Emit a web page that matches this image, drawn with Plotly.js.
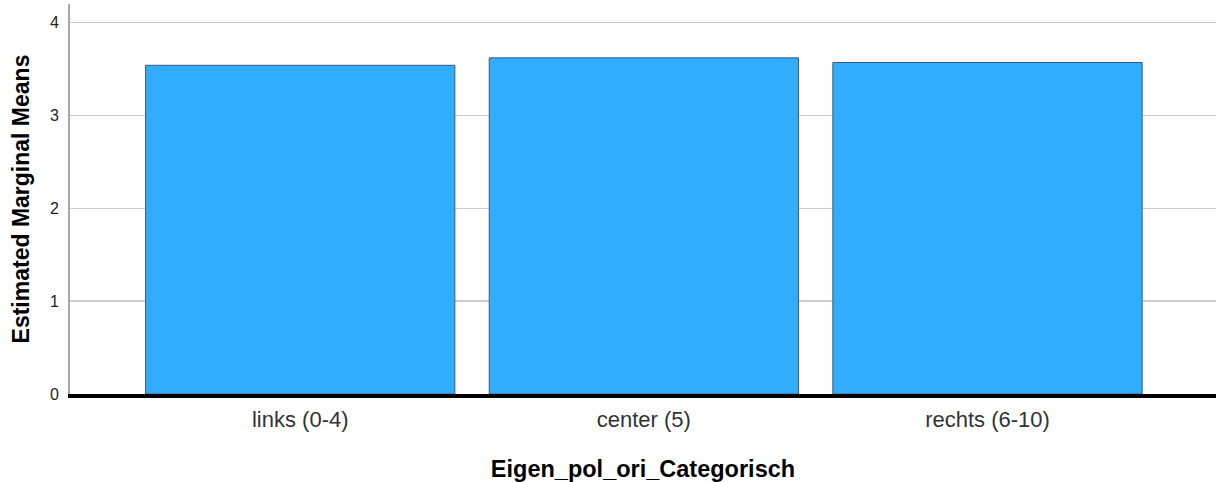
<!DOCTYPE html>
<html>
<head>
<meta charset="utf-8">
<script src="https://cdn.plot.ly/plotly-3.0.1.min.js"></script>
<style>html,body{margin:0;padding:0;background:#fff;}#chart{width:1216px;height:482px;}</style>
</head>
<body>
<div id="chart"></div>
<script>
const categories = ["links (0-4)", "center (5)", "rechts (6-10)"];
const means = [3.54, 3.62, 3.57];
const yTicks = [0, 1, 2, 3, 4];

const trace = {
  type: "bar",
  x: categories,
  y: means,
  width: 0.9,
  marker: { color: "#31adff", line: { color: "#3d5a73", width: 1 } },
  hoverinfo: "skip"
};

const layout = {
  width: 1216,
  height: 482,
  margin: { l: 70, r: 0, t: 4, b: 88, pad: 0 },
  paper_bgcolor: "#fff",
  plot_bgcolor: "#fff",
  showlegend: false,
  font: { family: "Liberation Sans, Arial, sans-serif", color: "#000" },
  xaxis: {
    type: "category",
    range: [-0.67, 2.665],
    showgrid: false,
    showline: true,
    linecolor: "#000",
    linewidth: 4,
    ticks: "",
    ticklabelstandoff: 3,
    tickfont: { size: 22, color: "#333" },
    title: { text: "Eigen_pol_ori_Categorisch", font: { size: 23.5, color: "#000", weight: "bold" }, standoff: 30 },
    zeroline: false,
    fixedrange: true
  },
  yaxis: {
    range: [0, 4.2],
    tickvals: yTicks,
    ticktext: yTicks.map(String),
    showgrid: true,
    gridcolor: "#cccccc",
    gridwidth: 1.5,
    showline: true,
    linecolor: "#a8a8a8",
    linewidth: 2,
    ticks: "",
    ticklabelstandoff: 6,
    tickfont: { size: 16, color: "#222" },
    title: { text: "Estimated Marginal Means", font: { size: 23, color: "#000", weight: "bold" }, standoff: 14 },
    zeroline: false,
    fixedrange: true
  },
  bargap: 0.1
};

Plotly.newPlot("chart", [trace], layout, { staticPlot: true, displayModeBar: false });
</script>
</body>
</html>
